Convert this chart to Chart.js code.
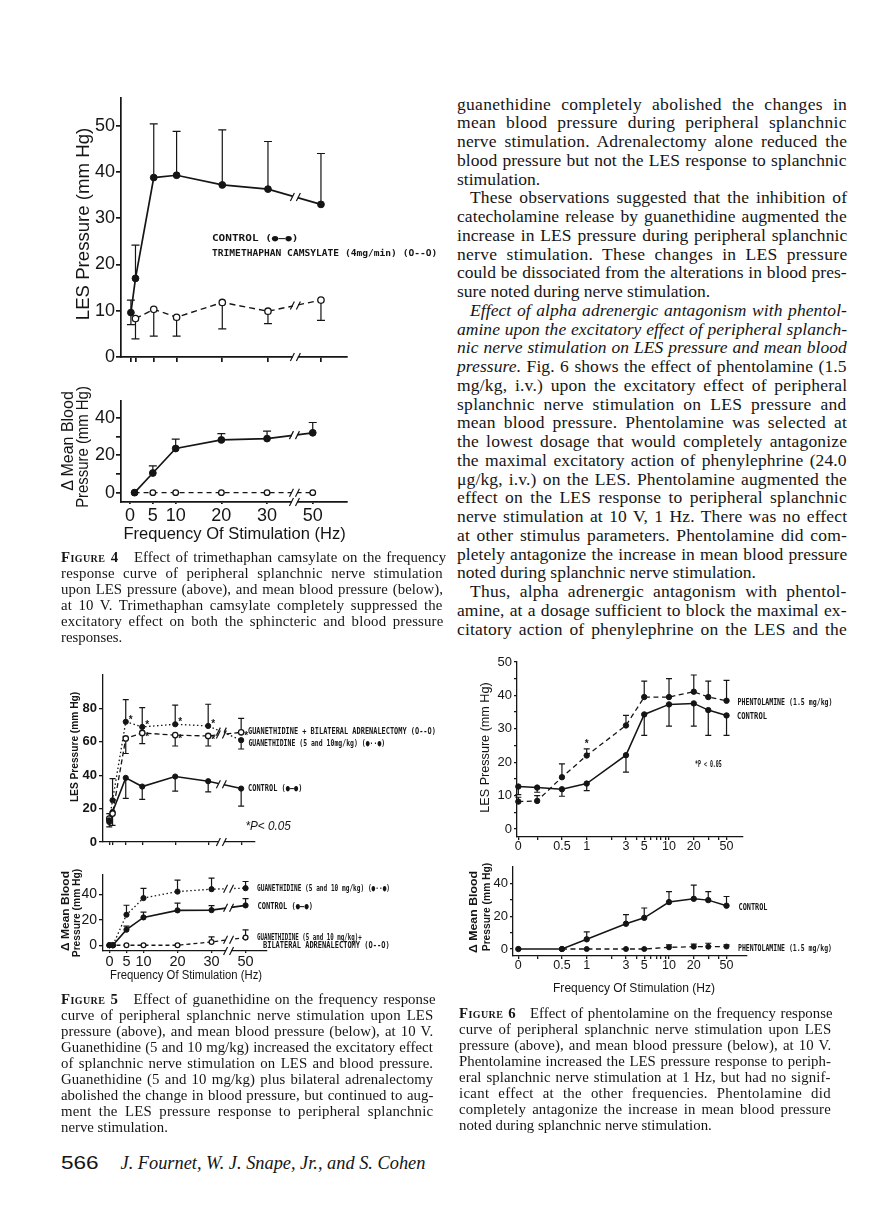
<!DOCTYPE html>
<html>
<head>
<meta charset="utf-8">
<script src="https://cdn.jsdelivr.net/npm/chart.js@4.4.0/dist/chart.umd.min.js"></script>
<style>
  html, body { margin: 0; padding: 0; background: #fff; }
  #page { position: relative; width: 880px; height: 1228px; overflow: hidden; background: #fff; color: #151515; }
  canvas { position: absolute; }
  .lbl { position: absolute; white-space: nowrap; line-height: 1; transform-origin: 50% 50%; }
  .ln { position: absolute; white-space: nowrap; line-height: 1; }
  .sc { font-variant: small-caps; letter-spacing: 0.4px; font-weight: bold; }
</style>
</head>
<body>
<div id="page"></div>
<script>
// ---------- Figure 4: trimethaphan camsylate ----------
const fig4Freq = [0, 1, 5, 10, 20, 30, 50];
const fig4LesControl = [9.6, 17, 38.8, 39.3, 37.2, 36.3, 33];
const fig4LesControlHi = [12.3, 24.2, 50.4, 48.8, 49.1, 46.6, 44];
const fig4LesControlLo = [7, null, null, null, null, null, null];
const fig4LesTrim = [null, 8.3, 10.3, 8.6, 11.8, 9.9, 12.3];
const fig4LesTrimLo = [null, 3.9, 4.5, 4.5, 6.1, 7.2, 7.9];
const fig4BpFreq = [1, 5, 10, 20, 30, 50];
const fig4BpControl = [0, 10.5, 23.6, 28.2, 28.9, 32];
const fig4BpControlHi = [null, 14.3, 28.6, 31.6, 32.9, 37.5];
const fig4BpTrim = [0, 0, 0, 0, 0, 0];
const fig4LesTicks = [0, 10, 20, 30, 40, 50];
const fig4BpTicks = [0, 10, 20, 30, 40];
const fig4BpTickLabels = ['0', '', '20', '', '40'];
const fig4AxisFreq = [0, 5, 10, 20, 30, 50];

// ---------- Figure 5: guanethidine ----------
const fig5Freq = [0, 1, 5, 10, 20, 30, 50];
const fig5LesGuan = [13, 25, 72, 68.9, 70.5, 69.5, 61];
const fig5LesGuanHi = [null, 38, 85.2, 80.5, 82, 82.5, null];
const fig5LesGuanLo = [null, null, null, null, null, null, 55.7];
const fig5LesAdx = [14, 17, 62, 65.3, 64, 63.5, 65.7];
const fig5LesAdxHi = [null, null, null, null, null, null, 74];
const fig5LesAdxLo = [null, null, 53, 58.9, 57.5, 57.5, null];
const fig5LesControl = [12, 18, 38.4, 33.2, 39.2, 36.4, 32];
const fig5LesControlHi = [17, null, null, null, null, null, null];
const fig5LesControlLo = [9, 10, 26.1, 25.5, 30.5, 30, 21.5];
const fig5GuanSig = [false, false, true, true, true, true, false];
const fig5AdxSig = [false, false, false, true, true, true, true];
const fig5BpGuan = [0, 0, 23.9, 36.9, 42, 43.9, 44.7];
const fig5BpGuanHi = [null, null, 31.3, 44.5, 51, 52.5, 49.9];
const fig5BpControl = [0, 0, 12.2, 21.8, 27.3, 27.5, 31.2];
const fig5BpControlHi = [null, null, 15, 26, 33, 31, 36.5];
const fig5BpAdx = [0, 0, 0, 0, 0, 2.6, 6];
const fig5BpAdxHi = [null, null, null, null, null, 6.5, 12];
const fig5LesTicks = [0, 20, 40, 60, 80];
const fig5BpTicks = [0, 20, 40];

// ---------- Figure 6: phentolamine ----------
const fig6LesFreq = [0, 0.25, 0.5, 1, 3, 5, 10, 20, 30, 50];
const fig6LesControl = [12.7, 12.4, 11.9, 13.6, 22.1, 34.3, 37.3, 37.6, 35.6, 34];
const fig6LesControlLo = [10.3, 11, 9.8, 11.5, 17, 28, 30.8, 30.8, 28, 28];
const fig6LesPhen = [8.2, 8.4, 15.5, 22, 31, 39.5, 39.5, 41.1, 39.5, 38.4];
const fig6LesPhenHi = [9.5, 10, 19.5, 24, 34, 44.3, 45, 46.1, 44.3, 44.5];
const fig6PhenSig = [false, false, false, true, false, false, false, false, false, false];
const fig6BpFreq = [0, 0.5, 1, 3, 5, 10, 20, 30, 50];
const fig6BpControl = [0, 0, 5.9, 15.4, 19, 28.6, 30.6, 29.8, 26.4];
const fig6BpControlHi = [null, null, 10.5, 21, 25, 35, 39, 35, 32];
const fig6BpPhen = [null, 0, 0, 0, 0, 1, 1.4, 1.4, 1.5];
const fig6BpPhenHi = [null, null, null, null, null, 2.5, 3, 3.5, 2.5];
const fig6FreqTicks = [0, 0.25, 0.5, 1, 2, 3, 4, 5, 6, 7, 8, 9, 10, 20, 30, 40, 50];
const fig6FreqLabels = ['0', '', '0.5', '1', '', '3', '', '5', '', '', '', '', '10', '20', '', '', '50'];
const fig6LesTicks = [0, 5, 10, 15, 20, 25, 30, 35, 40, 45, 50];
const fig6BpTicks = [0, 10, 20, 30, 40];

const INK = '#151515';
const page = document.getElementById('page');

// frequency -> axis position (broken axis after 30 Hz, log axis for fig 6)
const brkTop4 = f => (f === 50 ? 41.6 : f);
const brk40 = f => (f === 50 ? 40 : f);
const logPos = f => (f > 0 ? Math.log10(f) : -0.831);

function axis(o, isX, size, lw) {
  return {
    type: 'linear', min: o.min, max: o.max, bounds: 'data',
    afterBuildTicks: s => { s.ticks = o.ticks.map(v => ({ value: v })); },
    afterFit: s => {
      if (isX) s.height = size; else s.width = size;
      s.paddingLeft = s.paddingRight = s.paddingTop = s.paddingBottom = 0;
    },
    ticks: {
      autoSkip: false, maxRotation: 0, minRotation: 0, color: INK,
      padding: o.pad ?? 2,
      font: { family: 'Liberation Sans', size: o.size || 12, weight: o.weight || 'normal' },
      callback: (v, i) => (o.labels ? o.labels[i] : '')
    },
    grid: { display: true, drawOnChartArea: false, drawTicks: true, tickLength: o.tickLen ?? 4, color: INK, lineWidth: lw },
    border: { display: true, color: INK, width: lw }
  };
}

function makeDecor(cfg) {
  return {
    id: 'decor',
    beforeDatasetsDraw(chart) {
      const { ctx, scales: { x, y } } = chart;
      ctx.save();
      ctx.strokeStyle = INK;
      ctx.lineWidth = cfg.errLw || 1.2;
      chart.data.datasets.forEach(ds => {
        ds.data.forEach((p, i) => {
          if (p.y == null) return;
          [ds.errHi, ds.errLo].forEach(arr => {
            if (!arr || arr[i] == null) return;
            const px = x.getPixelForValue(p.x), py = y.getPixelForValue(p.y), ey = y.getPixelForValue(arr[i]);
            ctx.beginPath();
            ctx.moveTo(px, py); ctx.lineTo(px, ey);
            ctx.moveTo(px - cfg.cap, ey); ctx.lineTo(px + cfg.cap, ey);
            ctx.stroke();
          });
        });
      });
      ctx.restore();
    },
    afterDatasetsDraw(chart) {
      const { ctx, chartArea, scales: { x, y } } = chart;
      ctx.save();
      if (cfg.breakAt != null) {
        const bx = x.getPixelForValue(cfg.breakAt);
        const marks = [chartArea.bottom];
        chart.data.datasets.forEach(ds => {
          const pts = ds.data.filter(p => p.y != null);
          for (let k = 1; k < pts.length; k++) {
            if (pts[k - 1].x <= cfg.breakAt && pts[k].x >= cfg.breakAt) {
              const t = (cfg.breakAt - pts[k - 1].x) / (pts[k].x - pts[k - 1].x);
              marks.push(y.getPixelForValue(pts[k - 1].y + t * (pts[k].y - pts[k - 1].y)));
            }
          }
        });
        marks.forEach(my => {
          ctx.fillStyle = '#fff';
          ctx.fillRect(bx - 2.5, my - 3, 5, 6);
          ctx.strokeStyle = INK;
          ctx.lineWidth = 1.2;
          ctx.beginPath();
          ctx.moveTo(bx - 5, my + 4); ctx.lineTo(bx - 1, my - 4);
          ctx.moveTo(bx + 1, my + 4); ctx.lineTo(bx + 5, my - 4);
          ctx.stroke();
        });
      }
      ctx.fillStyle = INK;
      ctx.font = 'bold 10px "Liberation Sans"';
      ctx.textAlign = 'center';
      ctx.textBaseline = 'middle';
      chart.data.datasets.forEach(ds => {
        if (!ds.sig) return;
        ds.data.forEach((p, i) => {
          if (!ds.sig.flags[i]) return;
          const px = x.getPixelForValue(p.x);
          const base = ds.sig.fromHi ? ds.errHi[i] : p.y;
          ctx.fillText('*', px + ds.sig.dx, y.getPixelForValue(base) + ds.sig.dy);
        });
      });
      ctx.restore();
    }
  };
}

function series(s, lw) {
  return {
    data: s.freq.map((f, i) => ({ x: s.pos(f), y: s.vals[i] })),
    showLine: true, fill: false, spanGaps: true, clip: false,
    borderColor: INK, borderWidth: s.lw || lw, borderDash: s.dash || [],
    pointRadius: s.r || 3, pointHoverRadius: s.r || 3,
    pointBackgroundColor: s.filled ? INK : '#fff',
    pointBorderColor: INK, pointBorderWidth: s.filled ? 1 : 1.3,
    errHi: s.hi, errLo: s.lo, sig: s.sig
  };
}

function panel(p) {
  const yW = p.yW || 40, xH = p.xH || 28, padT = 10, padR = 8;
  const a = p.area;
  const c = document.createElement('canvas');
  c.width = a.r - a.l + yW + padR;
  c.height = a.b - a.t + padT + xH;
  c.style.left = (a.l - yW) + 'px';
  c.style.top = (a.t - padT) + 'px';
  page.appendChild(c);
  new Chart(c, {
    type: 'scatter',
    data: { datasets: p.series.map(s => series(s, p.lw)) },
    options: {
      responsive: false, animation: false, events: [],
      layout: { padding: { top: padT, right: padR, left: 0, bottom: 0 } },
      plugins: { legend: { display: false }, tooltip: { enabled: false } },
      scales: { x: axis(p.x, true, xH, p.axisLw || p.lw), y: axis(p.y, false, yW, p.axisLw || p.lw) }
    },
    plugins: [makeDecor({ cap: p.cap || 3.5, breakAt: p.breakAt, errLw: p.errLw })]
  });
}

// ---------- Figure 4 panels ----------
panel({
  area: { l: 121, t: 98, r: 347, b: 357 }, yW: 46, lw: 1.7,
  x: { min: -2.17, max: 47.3, ticks: fig4Freq.map(brkTop4), tickLen: 5 },
  y: { min: 0, max: 56, ticks: fig4LesTicks, labels: fig4LesTicks.map(String), size: 18, tickLen: 5, pad: 1 },
  breakAt: 36, cap: 4,
  series: [
    { freq: fig4Freq, vals: fig4LesControl, pos: brkTop4, filled: true, hi: fig4LesControlHi, lo: fig4LesControlLo, r: 3.4 },
    { freq: fig4Freq, vals: fig4LesTrim, pos: brkTop4, filled: false, dash: [6, 4], lw: 1.4, lo: fig4LesTrimLo, r: 3.2 }
  ]
});
panel({
  area: { l: 121, t: 401, r: 347, b: 502 }, yW: 46, lw: 1.7,
  x: { min: -1.97, max: 47.5, ticks: fig4AxisFreq.map(brk40), labels: fig4AxisFreq.map(String), size: 18, tickLen: 2, pad: 1 },
  y: { min: -5, max: 49, ticks: fig4BpTicks, labels: fig4BpTickLabels, size: 18, tickLen: 5, pad: 1 },
  breakAt: 36, cap: 4,
  series: [
    { freq: fig4BpFreq, vals: fig4BpControl, pos: brk40, filled: true, hi: fig4BpControlHi, r: 3.4 },
    { freq: fig4BpFreq, vals: fig4BpTrim, pos: brk40, filled: false, dash: [5, 4], lw: 1.3, r: 2.8 }
  ]
});

// ---------- Figure 5 panels ----------
panel({
  area: { l: 103, t: 675, r: 255, b: 842 }, yW: 36, lw: 1.3,
  x: { min: -1.9, max: 44.2, ticks: fig5Freq.map(brk40), tickLen: 3 },
  y: { min: 0, max: 100, ticks: fig5LesTicks, labels: fig5LesTicks.map(String), size: 13, weight: 'bold', tickLen: 4, pad: 2 },
  breakAt: 34, cap: 3,
  series: [
    { freq: fig5Freq, vals: fig5LesGuan, pos: brk40, filled: true, dash: [1.5, 2.5], hi: fig5LesGuanHi, lo: fig5LesGuanLo, r: 2.6,
      sig: { flags: fig5GuanSig, dx: 5, dy: -2 } },
    { freq: fig5Freq, vals: fig5LesAdx, pos: brk40, filled: false, dash: [5, 3], hi: fig5LesAdxHi, lo: fig5LesAdxLo, r: 2.7,
      sig: { flags: fig5AdxSig, dx: 5, dy: 4 } },
    { freq: fig5Freq, vals: fig5LesControl, pos: brk40, filled: true, hi: fig5LesControlHi, lo: fig5LesControlLo, lw: 1.6, r: 2.6 }
  ]
});
panel({
  area: { l: 103, t: 875, r: 267, b: 951 }, yW: 36, lw: 1.3,
  x: { min: -1.9, max: 46.3, ticks: fig4AxisFreq.map(brk40), labels: fig4AxisFreq.map(String), size: 14.5, tickLen: 2, pad: 0 },
  y: { min: -4.5, max: 55, ticks: fig5BpTicks, labels: fig5BpTicks.map(String), size: 14, tickLen: 4, pad: 2 },
  breakAt: 35, cap: 3,
  series: [
    { freq: fig5Freq, vals: fig5BpGuan, pos: brk40, filled: true, dash: [1.5, 2.5], hi: fig5BpGuanHi, r: 2.6 },
    { freq: fig5Freq, vals: fig5BpControl, pos: brk40, filled: true, hi: fig5BpControlHi, lw: 1.6, r: 2.6 },
    { freq: fig5Freq, vals: fig5BpAdx, pos: brk40, filled: false, dash: [4, 3], hi: fig5BpAdxHi, r: 2.4 }
  ]
});

// ---------- Figure 6 panels ----------
panel({
  area: { l: 517, t: 662, r: 743, b: 837 }, yW: 36, lw: 1.3,
  x: { min: -0.847, max: 1.899, ticks: fig6FreqTicks.map(logPos), labels: fig6FreqLabels, size: 12.5, tickLen: 3, pad: -1 },
  y: { min: -2.4, max: 50, ticks: fig6LesTicks, labels: fig6LesTicks.map(v => (v % 10 ? '' : String(v))), size: 13, tickLen: 3, pad: 2 },
  cap: 3,
  series: [
    { freq: fig6LesFreq, vals: fig6LesPhen, pos: logPos, filled: true, dash: [5, 3.5], hi: fig6LesPhenHi, r: 2.7,
      sig: { flags: fig6PhenSig, dx: 0, dy: -5, fromHi: true } },
    { freq: fig6LesFreq, vals: fig6LesControl, pos: logPos, filled: true, lo: fig6LesControlLo, lw: 1.5, r: 2.7 }
  ]
});
panel({
  area: { l: 513, t: 867, r: 747, b: 956 }, yW: 36, lw: 1.3,
  x: { min: -0.896, max: 1.948, ticks: fig6FreqTicks.map(logPos), labels: fig6FreqLabels, size: 12.5, tickLen: 3, pad: -1 },
  y: { min: -4.27, max: 50, ticks: fig6BpTicks, labels: fig6BpTicks.map(v => (v % 20 ? '' : String(v))), size: 13, tickLen: 3, pad: 2 },
  cap: 3,
  series: [
    { freq: fig6BpFreq, vals: fig6BpControl, pos: logPos, filled: true, hi: fig6BpControlHi, lw: 1.5, r: 2.7 },
    { freq: fig6BpFreq, vals: fig6BpPhen, pos: logPos, filled: true, dash: [5, 3.5], hi: fig6BpPhenHi, r: 2.5 }
  ]
});

// ---------- chart texts ----------
function label(text, x, y, o = {}) {
  const el = document.createElement('div');
  el.className = 'lbl';
  el.textContent = text;
  el.style.font = o.font || '12px "Liberation Sans"';
  page.appendChild(el);
  const w = el.offsetWidth, h = el.offsetHeight;
  const s = o.width ? o.width / w : 1;
  const cx = o.left ? x + (w * s) / 2 : x;
  el.style.left = (cx - w / 2) + 'px';
  el.style.top = (y - h / 2) + 'px';
  el.style.transform = (o.rotate ? 'rotate(-90deg) ' : '') + 'scaleX(' + s + ')';
}
const MONO = 'bold 9px "DejaVu Sans Mono"';
const SANS = '"Liberation Sans"';

label('LES Pressure (mm Hg)', 83, 224, { font: '19px ' + SANS, width: 192, rotate: true });
label('CONTROL (●—●)', 212, 238, { font: MONO, width: 86, left: true });
label('TRIMETHAPHAN CAMSYLATE (4mg/min) (O--O)', 212, 253, { font: MONO, width: 225, left: true });
label('Δ Mean Blood', 68, 441, { font: '16px ' + SANS, width: 100, rotate: true });
label('Pressure (mm Hg)', 83, 447, { font: '16px ' + SANS, width: 122, rotate: true });
label('Frequency Of Stimulation (Hz)', 234, 534, { font: '16px ' + SANS, width: 222 });

label('LES Pressure (mm Hg)', 73, 747, { font: 'bold 11px ' + SANS, width: 110, rotate: true });
label('GUANETHIDINE + BILATERAL ADRENALECTOMY (O--O)', 248, 731, { font: MONO, width: 188, left: true });
label('GUANETHIDINE (5 and 10mg/kg) (●··●)', 248, 743, { font: MONO, width: 137, left: true });
label('CONTROL (●—●)', 248, 788, { font: MONO, width: 54, left: true });
label('*P< 0.05', 245, 825, { font: 'italic 13px ' + SANS, width: 45, left: true });
label('Δ Mean Blood', 65, 911, { font: 'bold 10.5px ' + SANS, width: 80, rotate: true });
label('Pressure (mm Hg)', 75.5, 913, { font: 'bold 10.5px ' + SANS, width: 88, rotate: true });
label('GUANETHIDINE (5 and 10 mg/kg) (●··●)', 257, 888, { font: MONO, width: 133, left: true });
label('CONTROL (●—●)', 257, 906, { font: MONO, width: 55, left: true });
label('GUANETHIDINE (5 and 10 mg/kg)+', 257, 937, { font: MONO, width: 105, left: true });
label('BILATERAL ADRENALECTOMY (O--O)', 263, 945, { font: MONO, width: 127, left: true });
label('Frequency Of Stimulation (Hz)', 186, 975, { font: '12.5px ' + SANS, width: 152 });

label('LES Pressure (mm Hg)', 484, 747, { font: '13px ' + SANS, width: 130, rotate: true });
label('PHENTOLAMINE (1.5 mg/kg)', 737, 702, { font: MONO, width: 95, left: true });
label('CONTROL', 737, 716, { font: MONO, width: 30, left: true });
label('*P < 0.05', 695, 764, { font: MONO, width: 27, left: true });
label('Δ Mean Blood', 473, 912, { font: 'bold 10.5px ' + SANS, width: 82, rotate: true });
label('Pressure (mm Hg)', 486, 907, { font: 'bold 10.5px ' + SANS, width: 88, rotate: true });
label('CONTROL', 738, 907, { font: MONO, width: 29, left: true });
label('PHENTOLAMINE (1.5 mg/kg)', 738, 948, { font: MONO, width: 94, left: true });
label('Frequency Of Stimulation (Hz)', 634, 988, { font: '12.5px ' + SANS, width: 162 });

// ---------- body text ----------
// '>' at start = paragraph indent, '|' at end = last line (not justified)
function textBlock(lines, x, y0, lh, width, font, indent) {
  lines.forEach((raw, i) => {
    let html = raw, ind = 0, last = false;
    if (html.startsWith('>')) { html = html.slice(1); ind = indent; }
    if (html.endsWith('|')) { html = html.slice(0, -1); last = true; }
    const el = document.createElement('div');
    el.className = 'ln';
    el.style.font = font;
    el.innerHTML = html;
    page.appendChild(el);
    el.style.left = (x + ind) + 'px';
    el.style.top = (y0 + i * lh - el.offsetHeight / 2) + 'px';
    if (!last) {
      const txt = el.textContent;
      const spaces = (txt.match(/ /g) || []).length;
      const slack = width - ind - el.offsetWidth;
      if (slack > 0) {
        const ls = Math.min(0.5, (slack * 0.35) / txt.length);
        el.style.letterSpacing = ls + 'px';
        const rest = width - ind - el.offsetWidth;
        if (spaces) el.style.wordSpacing = (rest / spaces) + 'px';
      } else if (spaces) {
        el.style.wordSpacing = (slack / spaces) + 'px';
      }
    }
  });
}

const rightColumn = [
  'guanethidine completely abolished the changes in',
  'mean blood pressure during peripheral splanchnic',
  'nerve stimulation. Adrenalectomy alone reduced the',
  'blood pressure but not the LES response to splanchnic',
  'stimulation.|',
  '>These observations suggested that the inhibition of',
  'catecholamine release by guanethidine augmented the',
  'increase in LES pressure during peripheral splanchnic',
  'nerve stimulation. These changes in LES pressure',
  'could be dissociated from the alterations in blood pres-',
  'sure noted during nerve stimulation.|',
  '><i>Effect of alpha adrenergic antagonism with phentol-</i>',
  '<i>amine upon the excitatory effect of peripheral splanch-</i>',
  '<i>nic nerve stimulation on LES pressure and mean blood</i>',
  '<i>pressure.</i> Fig. 6 shows the effect of phentolamine (1.5',
  'mg/kg, i.v.) upon the excitatory effect of peripheral',
  'splanchnic nerve stimulation on LES pressure and',
  'mean blood pressure. Phentolamine was selected at',
  'the lowest dosage that would completely antagonize',
  'the maximal excitatory action of phenylephrine (24.0',
  'μg/kg, i.v.) on the LES. Phentolamine augmented the',
  'effect on the LES response to peripheral splanchnic',
  'nerve stimulation at 10 V, 1 Hz. There was no effect',
  'at other stimulus parameters. Phentolamine did com-',
  'pletely antagonize the increase in mean blood pressure',
  'noted during splanchnic nerve stimulation.|',
  '>Thus, alpha adrenergic antagonism with phentol-',
  'amine, at a dosage sufficient to block the maximal ex-',
  'citatory action of phenylephrine on the LES and the'
];
textBlock(rightColumn, 457, 104, 18.75, 390, '17.5px "Liberation Serif"', 13);

const caption4 = [
  '<span class="sc">Figure 4</span>&nbsp;&nbsp; Effect of trimethaphan camsylate on the frequency',
  'response curve of peripheral splanchnic nerve stimulation',
  'upon LES pressure (above), and mean blood pressure (below),',
  'at 10 V. Trimethaphan camsylate completely suppressed the',
  'excitatory effect on both the sphincteric and blood pressure',
  'responses.|'
];
const caption5 = [
  '<span class="sc">Figure 5</span>&nbsp;&nbsp; Effect of guanethidine on the frequency response',
  'curve of peripheral splanchnic nerve stimulation upon LES',
  'pressure (above), and mean blood pressure (below), at 10 V.',
  'Guanethidine (5 and 10 mg/kg) increased the excitatory effect',
  'of splanchnic nerve stimulation on LES and blood pressure.',
  'Guanethidine (5 and 10 mg/kg) plus bilateral adrenalectomy',
  'abolished the change in blood pressure, but continued to aug-',
  'ment the LES pressure response to peripheral splanchnic',
  'nerve stimulation.|'
];
const caption6 = [
  '<span class="sc">Figure 6</span>&nbsp;&nbsp; Effect of phentolamine on the frequency response',
  'curve of peripheral splanchnic nerve stimulation upon LES',
  'pressure (above), and mean blood pressure (below), at 10 V.',
  'Phentolamine increased the LES pressure response to periph-',
  'eral splanchnic nerve stimulation at 1 Hz, but had no signif-',
  'icant effect at the other frequencies. Phentolamine did',
  'completely antagonize the increase in mean blood pressure',
  'noted during splanchnic nerve stimulation.|'
];
const CAP = '14.8px "Liberation Serif"';
textBlock(caption4, 61, 557, 16, 382, CAP, 0);
textBlock(caption5, 61, 999, 16, 372, CAP, 0);
textBlock(caption6, 459, 1013, 16, 372, CAP, 0);

label('566', 61, 1163, { font: '19px ' + SANS, width: 38, left: true });
label('J. Fournet, W. J. Snape, Jr., and S. Cohen', 120, 1163, { font: 'italic 19px "Liberation Serif"', width: 305, left: true });
</script>
</body>
</html>
